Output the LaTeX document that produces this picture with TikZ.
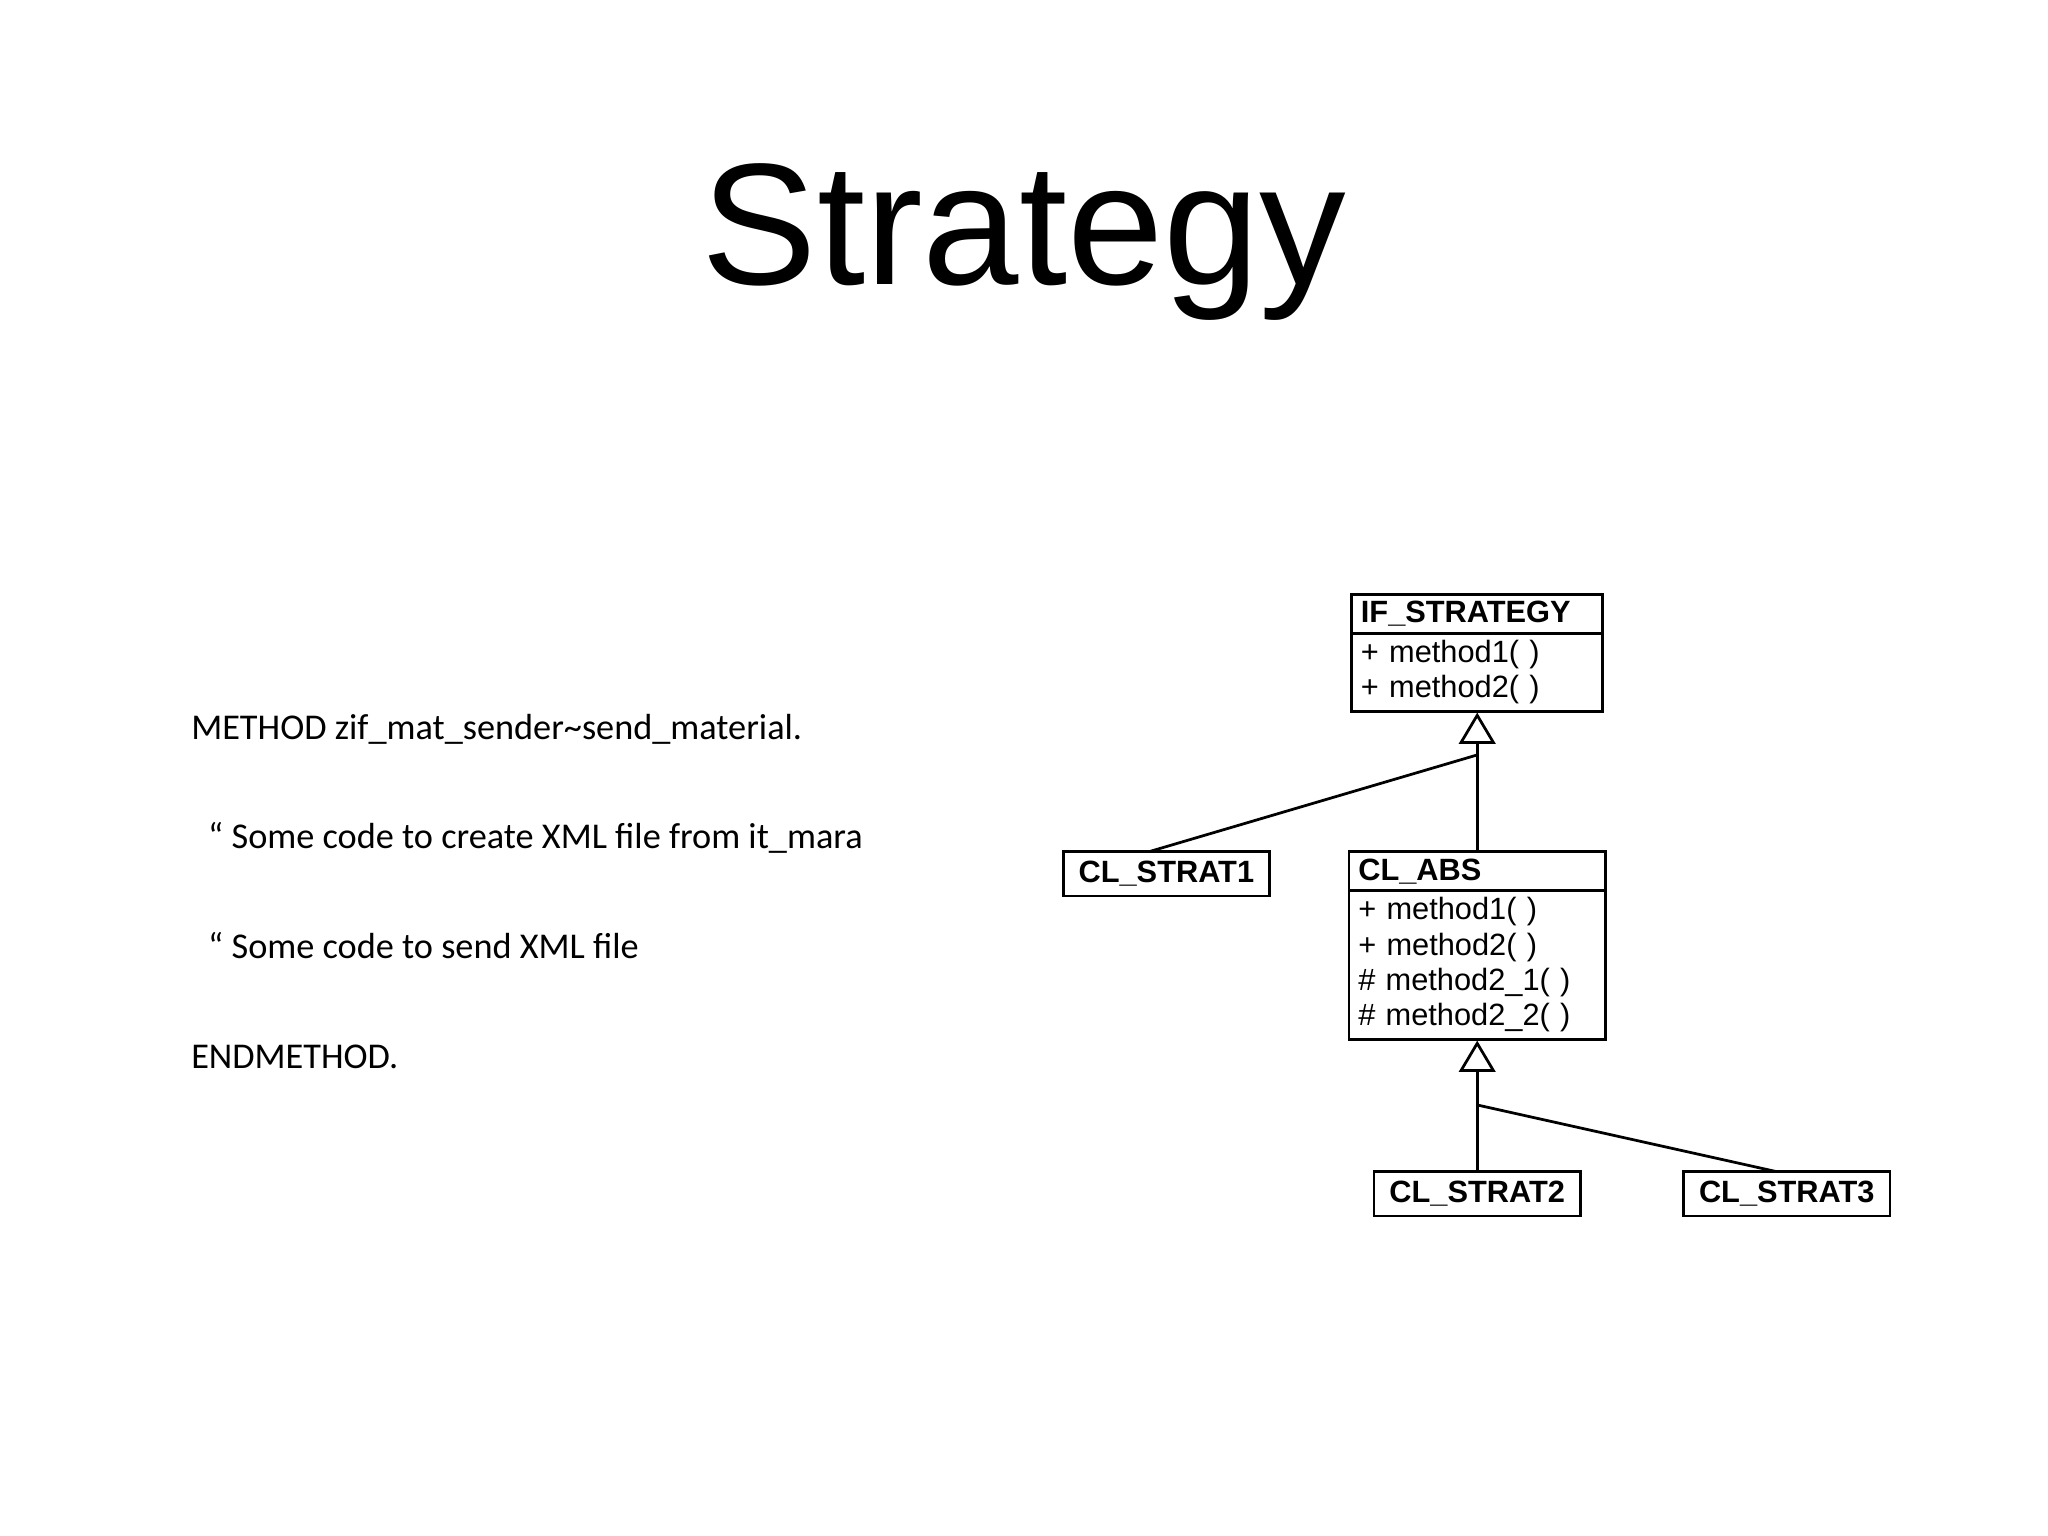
\documentclass[tikz,border=0pt]{standalone}
\usepackage{fontspec}
\setmainfont{Liberation Sans}
\newfontfamily\bodyfont{Carlito}
\usetikzlibrary{positioning, shapes.multipart, arrows.meta}
\tikzset{
  umlclass/.style={draw, rectangle split, rectangle split parts=2, inner xsep=2pt, inner ysep=1.2pt,
    line width=0.6pt, font=\fontsize{6.7}{7.7}\selectfont, rectangle split part align={center,left}},
  umlleaf/.style={draw, line width=0.6pt, minimum width=1.58cm, minimum height=0.34cm, inner sep=1pt,
    font=\fontsize{6.7}{7.7}\selectfont\bfseries},
  codeline/.style={anchor=base west, font=\bodyfont\fontsize{7.9}{9}\selectfont},
  inherit/.style={-{Triangle[open, length=0.24cm, width=0.28cm]}, line width=0.6pt},
}
\begin{document}
\begin{tikzpicture}[x=0.01cm, y=-0.01cm]
  \useasboundingbox (0,0) rectangle (1568,1176);
  \node (title) at (784,185) {\fontsize{37.7}{40}\selectfont Strategy};
  % code text
  \node[codeline] (l1) at (134,566) {METHOD zif\_mat\_sender\textasciitilde send\_material.};
  \node[codeline] (l2) at (147,650) {“ Some code to create XML file from it\_mara};
  \node[codeline] (l3) at (147,734) {“ Some code to send XML file};
  \node[codeline] (l4) at (134,818) {ENDMETHOD.};
  % class diagram
  \node[umlclass, text width=1.78cm, anchor=north] (ifs) at (1131,454)
    {\textbf{IF\_STRATEGY}\nodepart{two}+ method1( )\\+ method2( )};
  \node[umlclass, text width=1.82cm, anchor=north] (abs) at (1131,651)
    {\textbf{CL\_ABS}\nodepart{two}+ method1( )\\+ method2( )\\\# method2\_1( )\\\# method2\_2( )};
  \node[umlleaf] (s1) at (893,669) {CL\_STRAT1};
  \node[umlleaf] (s2) at (1131,914) {CL\_STRAT2};
  \node[umlleaf] (s3) at (1368,914) {CL\_STRAT3};
  \coordinate (j1) at (1131,578);
  \coordinate (j2) at (1131,846);
  \draw[inherit] (abs.north) -- (ifs.south);
  \draw[line width=0.6pt] (j1) -- (880,652);
  \draw[inherit] (s2.north) -- (abs.south);
  \draw[line width=0.6pt] (j2) -- (1360,897);
\end{tikzpicture}
\end{document}
